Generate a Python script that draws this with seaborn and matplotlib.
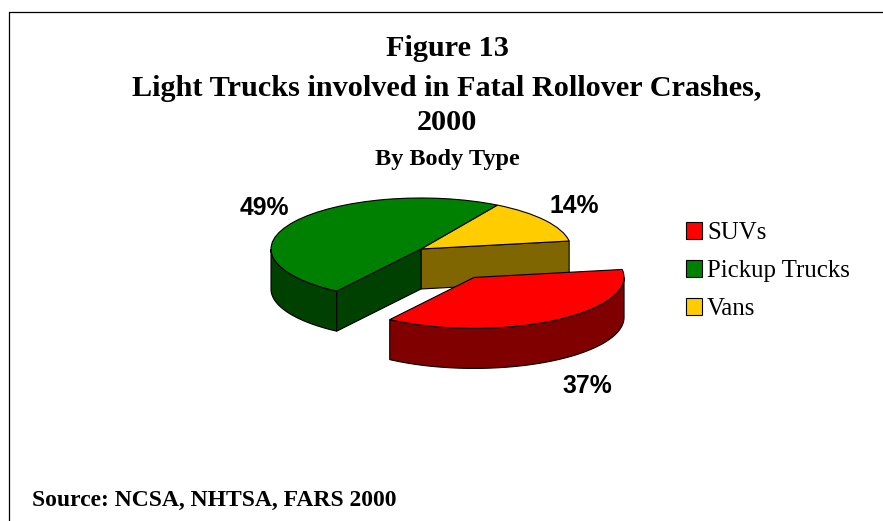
import numpy as np
import seaborn as sns
import matplotlib.pyplot as plt
from matplotlib.lines import Line2D

categories = ['SUVs', 'Pickup Trucks', 'Vans']
shares = [37, 49, 14]
pct_labels = ['37%', '49%', '14%']
top_colors = ['#FF0000', '#008000', '#FFCC00']
side_colors = ['#800000', '#004000', '#806600']

W, H = 883, 521
# pie centre and ellipse size, in pixels
cx, cy, rx, ry = 421, 249, 150, 51
depth = 40 / ry


def fx(px):
    return px / W


def fy(py):
    return 1 - py / H


sns.set_theme(style='white')
plt.rcParams['font.family'] = ['Liberation Serif']

fig = plt.figure(figsize=(W / 100, H / 100), dpi=100, facecolor='white')
ax = fig.add_axes([0, 0, 1, 1])

# slices run clockwise from 9 degrees
wedges, _ = ax.pie(shares, startangle=9, counterclock=False, explode=[0.66, 0, 0],
                   colors=top_colors, radius=1,
                   wedgeprops={'edgecolor': 'black', 'linewidth': 0.8})
ax.set_aspect('auto')
ax.set_xlim(-cx / rx, (W - cx) / rx)
ax.set_ylim((cy - H) / ry, cy / ry)
ax.set_xticks([])
ax.set_yticks([])


def rim_side(wedge, t1, t2, color, z):
    c = wedge.center
    t = np.radians(np.linspace(t1, t2, 80))
    x = c[0] + np.cos(t)
    y = c[1] + np.sin(t)
    ax.fill(np.r_[x, x[::-1]], np.r_[y, y[::-1] - depth], facecolor=color,
            edgecolor='black', linewidth=0.8, zorder=z)


def cut_side(wedge, angle, color, z):
    c = wedge.center
    a = np.radians(angle)
    x = [c[0], c[0] + np.cos(a), c[0] + np.cos(a), c[0]]
    y = [c[1], c[1] + np.sin(a), c[1] + np.sin(a) - depth, c[1] - depth]
    ax.fill(x, y, facecolor=color, edgecolor='black', linewidth=0.8, zorder=z)


suv, pickup, vans = wedges
vans_start = vans.theta1 % 360
pickup_end = pickup.theta2 % 360
suv_start = suv.theta1 % 360

cut_side(vans, vans_start, side_colors[2], 1)
vans.set_zorder(2)
rim_side(pickup, 180, pickup_end, side_colors[1], 3)
cut_side(pickup, pickup_end, side_colors[1], 3)
pickup.set_zorder(4)
rim_side(suv, suv_start, 360, side_colors[0], 5)
suv.set_zorder(6)

# frame, open at the right and bottom
fig.add_artist(Line2D([fx(8.5), fx(8.5)], [0, fy(11.5)], color='black', lw=0.9))
fig.add_artist(Line2D([fx(8.5), 1], [fy(11.5), fy(11.5)], color='black', lw=0.9))

title_lines = ['Figure 13', 'Light Trucks involved in Fatal Rollover Crashes,', '2000']
title_y = [49, 88, 123]
for line, y in zip(title_lines, title_y):
    fig.text(fx(447), fy(y), line, ha='center', va='center', fontsize=21.8,
             fontweight='bold', color='black')
fig.text(fx(447), fy(160), 'By Body Type', ha='center', va='center', fontsize=17.5,
         fontweight='bold', color='black')
fig.text(fx(32), fy(500), 'Source: NCSA, NHTSA, FARS 2000', ha='left', va='center',
         fontsize=17, fontweight='bold', color='black')

label_x = [587, 264, 574]
label_y = [386, 208, 206]
for lab, x, y in zip(pct_labels, label_x, label_y):
    fig.text(fx(x), fy(y), lab, ha='center', va='center', fontsize=17.8,
             fontweight='bold', family='Liberation Sans', color='black')

leg = ax.legend(wedges, categories, loc='upper left', bbox_to_anchor=(fx(686), fy(222)),
                frameon=False, fontsize=17.9, handlelength=0.65, handleheight=0.65,
                handletextpad=0.2, labelspacing=0.65, borderpad=0, borderaxespad=0,
                labelcolor='black')
for h in leg.get_patches():
    h.set_edgecolor('black')
    h.set_linewidth(0.8)

fig.savefig('out.png', dpi=100)
